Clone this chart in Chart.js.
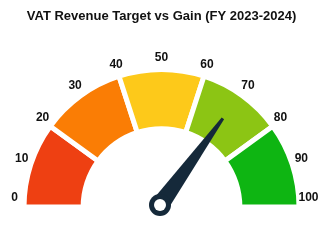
<!DOCTYPE html>
<html lang="en">
<head>
    <meta charset="UTF-8">
    <title>VAT Revenue Target vs Gain</title>
    <script src="https://cdn.jsdelivr.net/npm/chart.js"></script>
    <style>
        html, body { margin: 0; padding: 0; background: #fff; }
        #wrap { width: 331px; height: 243px; }
    </style>
</head>
<body>
    <div id="wrap"><canvas id="gauge"></canvas></div>
    <script>
        // dados do medidor
        const faixas = ['0-20', '20-40', '40-60', '60-80', '80-100'];
        const tamanhos = [20, 20, 20, 20, 20];
        const cores = ['#EE4012', '#FA7D05', '#FDC91A', '#8CC514', '#0EB512'];
        const marcas = [0, 10, 20, 30, 40, 50, 60, 70, 80, 90, 100];
        const valorAtual = 70;
        const valorMax = 100;

        // ponteiro + rótulos desenhados sobre o doughnut
        const ponteiroPlugin = {
            id: 'ponteiro',
            afterDatasetsDraw(chart) {
                const arc = chart.getDatasetMeta(0).data[0];
                if (!arc) return;
                const ctx = chart.ctx;
                const cx = arc.x, cy = arc.y;

                // rótulos
                ctx.save();
                ctx.font = 'bold 12px "Liberation Sans", Arial, sans-serif';
                ctx.fillStyle = '#111';
                ctx.textAlign = 'center';
                ctx.textBaseline = 'middle';
                marcas.forEach(m => {
                    const ang = Math.PI - (m / valorMax) * Math.PI;
                    const x = cx + 147 * Math.cos(ang);
                    let y = cy - 2.5 - 147 * Math.sin(ang);
                    y = Math.min(y, cy - 9.5);
                    ctx.fillText(String(m), x, y);
                });
                ctx.restore();

                // ponteiro
                const px = cx - 1.5, py = cy - 2;
                const ang = Math.PI - (valorAtual / valorMax) * Math.PI;
                const dx = Math.cos(ang), dy = -Math.sin(ang);
                const nx = -dy, ny = dx;
                const len = 107;
                ctx.save();
                ctx.fillStyle = '#15293A';
                ctx.beginPath();
                ctx.moveTo(px + nx * 9, py + ny * 9);
                ctx.lineTo(px + dx * len + nx * 1.5, py + dy * len + ny * 1.5);
                ctx.lineTo(px + dx * len - nx * 1.5, py + dy * len - ny * 1.5);
                ctx.lineTo(px - nx * 9, py - ny * 9);
                ctx.closePath();
                ctx.fill();
                ctx.beginPath();
                ctx.arc(px, py, 11, 0, Math.PI * 2);
                ctx.fill();
                ctx.fillStyle = '#fff';
                ctx.beginPath();
                ctx.arc(px, py, 6, 0, Math.PI * 2);
                ctx.fill();
                ctx.restore();
            }
        };

        const ctx = document.getElementById('gauge').getContext('2d');
        new Chart(ctx, {
            type: 'doughnut',
            data: {
                labels: faixas,
                datasets: [{
                    data: tamanhos,
                    backgroundColor: cores,
                    borderColor: '#fff',
                    borderWidth: 5
                }]
            },
            options: {
                responsive: true,
                maintainAspectRatio: false,
                animation: false,
                rotation: -90,
                circumference: 180,
                cutout: '57%',
                layout: {
                    padding: { top: 0, left: 10, right: 18, bottom: 33.5 }
                },
                plugins: {
                    legend: { display: false },
                    tooltip: { enabled: false },
                    title: {
                        display: true,
                        text: 'VAT Revenue Target vs Gain (FY 2023-2024)',
                        color: '#111',
                        font: { family: '"Liberation Sans", Arial, sans-serif', size: 13, weight: 'bold' },
                        padding: { top: 9, bottom: 42.4 }
                    }
                }
            },
            plugins: [ponteiroPlugin]
        });
    </script>
</body>
</html>
